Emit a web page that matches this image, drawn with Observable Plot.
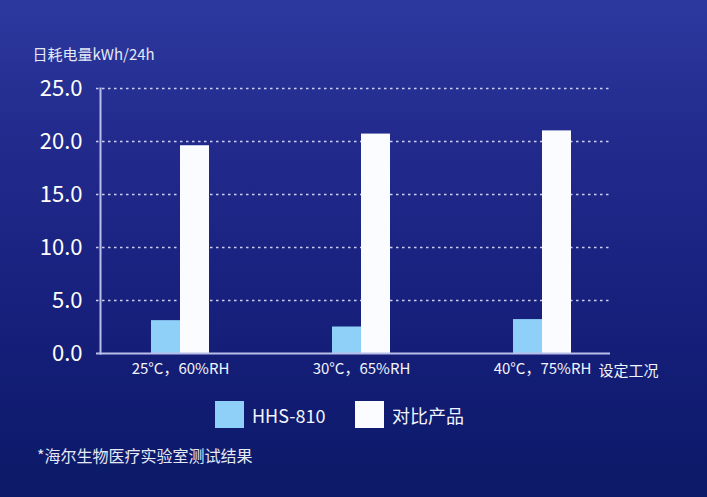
<!DOCTYPE html>
<html>
<head>
<meta charset="utf-8">
<script src="https://cdn.jsdelivr.net/npm/d3@7"></script>
<script src="https://cdn.jsdelivr.net/npm/@observablehq/plot@0.6"></script>
<style>
  html, body { margin: 0; padding: 0; }
  body {
    width: 707px; height: 497px; overflow: hidden;
    background: linear-gradient(to bottom, #2d399f 0%, #232c8e 25%, #1a2280 55%, #111c72 80%, #0b1a68 100%);
    font-family: "Noto Sans CJK SC", "Noto Sans", sans-serif;
    color: #fff;
    position: relative;
  }
  #legend { position: absolute; left: 0; top: 401px; width: 707px; height: 30px; }
  .item { position: absolute; top: 0; display: flex; align-items: center; font-size: 18px; color: #f2f4fb; }
  .sw { width: 29px; height: 27px; margin-right: 8px; }
  #note { position: absolute; left: 37px; top: 443px; font-size: 16px; color: #e6e8f4; }
</style>
</head>
<body>
<div id="chart"></div>
<div id="legend"></div>
<div id="note">*海尔生物医疗实验室测试结果</div>
<script>
const categories = ["25°C，60%RH", "30°C，65%RH", "40°C，75%RH"];
const seriesNames = ["HHS-810", "对比产品"];
const hhs810 = [3.1, 2.5, 3.2];
const compare = [19.6, 20.7, 21.0];
const yTicks = [0, 5, 10, 15, 20, 25];
const colors = ["#8fd0f8", "#fbfcff"];
const yTitle = "日耗电量kWh/24h";
const xTitle = "设定工况";

const rowsA = categories.map((c, i) => ({cat: c, series: seriesNames[0], value: hhs810[i]}));
const rowsB = categories.map((c, i) => ({cat: c, series: seriesNames[1], value: compare[i]}));

const half = 29;
const chart = Plot.plot({
  width: 707,
  height: 390,
  marginTop: 88,
  marginBottom: 37,
  marginLeft: 96,
  marginRight: 97,
  style: {background: "transparent", color: "#fff", fontFamily: "'Noto Sans CJK SC', 'Noto Sans', sans-serif", overflow: "visible"},
  x: {domain: categories, range: [150, 571], paddingInner: 0.68, paddingOuter: 0, axis: null},
  y: {domain: [0, 25], axis: null},
  color: {domain: seriesNames, range: colors},
  marks: [
    Plot.ruleY(yTicks.filter(d => d > 0), {stroke: "#dfe3ff", strokeWidth: 1.6, strokeDasharray: "2.5,3.5", strokeOpacity: 0.9}),
    Plot.barY(rowsA, {x: "cat", y: "value", fill: "series", insetRight: half, insetLeft: 0}),
    Plot.barY(rowsB, {x: "cat", y: "value", fill: "series", insetLeft: half, insetRight: 0}),
    Plot.ruleY([0], {stroke: "#b9bfeb", strokeWidth: 2}),
    Plot.frame({anchor: "left", stroke: "#b9bfeb", strokeWidth: 2, dx: 4}),
    Plot.axisY(yTicks, {label: null, tickSize: 0, tickPadding: 14, fontSize: 22, fill: "#ffffff", tickFormat: d3.format(".1f")}),
    Plot.axisX({label: null, tickSize: 0, tickPadding: 10, fontSize: 15, fill: "#f2f4fb"}),
    Plot.text([xTitle], {frameAnchor: "bottom-right", textAnchor: "start", lineAnchor: "middle", dx: -12, dy: 18, fontSize: 15, fill: "#f2f4fb"}),
    Plot.text([yTitle], {frameAnchor: "top-left", textAnchor: "start", lineAnchor: "middle", dx: -64, dy: -33, fontSize: 15, fill: "#e6e8f4"})
  ]
});
document.getElementById("chart").appendChild(chart);

const legend = document.getElementById("legend");
const lefts = [215, 355];
seriesNames.forEach((s, i) => {
  const it = document.createElement("div");
  it.className = "item";
  it.style.left = lefts[i] + "px";
  const sw = document.createElement("div");
  sw.className = "sw";
  sw.style.background = colors[i];
  const t = document.createElement("span");
  t.textContent = s;
  it.appendChild(sw); it.appendChild(t);
  legend.appendChild(it);
});
</script>
</body>
</html>
